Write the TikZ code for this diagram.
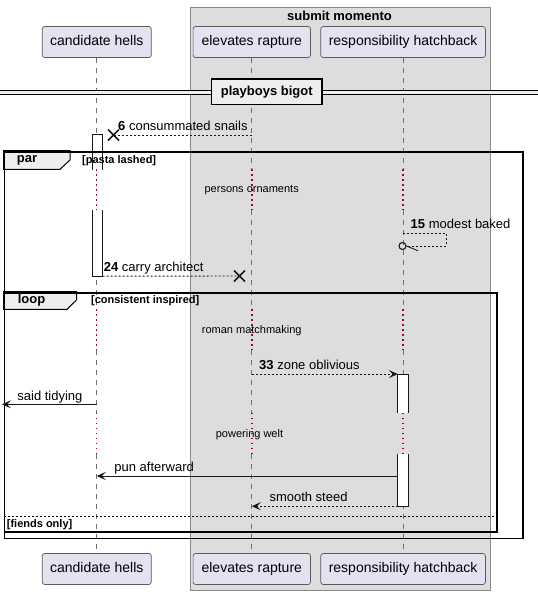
\documentclass[tikz,border=0pt]{standalone}
\usepackage{fontspec}
\setmainfont{Liberation Sans}
\usepackage{tikz}
\usetikzlibrary{arrows.meta,positioning,calc}
\definecolor{PartFill}{HTML}{E2E2F0}
\definecolor{PartLine}{HTML}{5A5A5A}
\definecolor{BoxFill}{HTML}{DDDDDD}
\definecolor{BoxLine}{HTML}{888888}
\definecolor{Ink}{HTML}{181818}
\definecolor{Life}{HTML}{707070}
\definecolor{Delay}{HTML}{A80036}
\definecolor{TabFill}{HTML}{EEEEEE}
\tikzset{
  part/.style={draw=PartLine,fill=PartFill,rounded corners=2.5pt,line width=0.7pt,
    minimum height=31pt,inner sep=0pt,text height=10pt,text depth=3pt,font=\fontsize{14}{16}\selectfont},
  boxarea/.style={draw=BoxLine,fill=BoxFill,line width=0.8pt,inner sep=0pt},
  boxtitle/.style={inner sep=0pt,font=\bfseries\fontsize{13}{15}\selectfont},
  lifeline/.style={draw=Life,line width=0.7pt,dash pattern=on 5pt off 5pt},
  delayline/.style={draw=Delay,line width=1.4pt,dash pattern=on 1.3pt off 3.7pt},
  actbar/.style={fill=white,minimum width=10pt,inner sep=0pt},
  actedge/.style={draw=Ink,line width=0.9pt},
  msgline/.style={draw=Ink,line width=0.9pt},
  dashline/.style={msgline,dash pattern=on 2pt off 2pt},
  msg/.style={msgline,-{Stealth[length=9pt,width=8pt,inset=4pt]}},
  dashmsg/.style={dashline,-{Stealth[length=9pt,width=8pt,inset=4pt]}},
  xmark/.style={draw=Ink,line width=1.5pt},
  lbl/.style={anchor=base west,inner sep=0pt,font=\fontsize{13}{15}\selectfont},
  delaytxt/.style={inner sep=0pt,font=\fontsize{11}{13}\selectfont},
  grpframe/.style={draw=black,line width=1.8pt,inner sep=0pt,anchor=north west},
  tabshape/.style={draw=black,fill=TabFill,line width=1pt},
  tablbl/.style={inner sep=0pt,font=\bfseries\fontsize{13}{15}\selectfont},
  guard/.style={anchor=west,inner sep=0pt,font=\bfseries\fontsize{11}{13}\selectfont},
  elseline/.style={draw=black,line width=0.9pt,dash pattern=on 2pt off 2pt},
  divider/.style={draw=black,fill=TabFill,line width=1.6pt,minimum width=110.7pt,
    minimum height=25.6pt,inner sep=0pt,font=\bfseries\fontsize{13}{15}\selectfont}
}
\begin{document}
\begin{tikzpicture}[x=1pt,y=-1pt]
  \useasboundingbox[fill=white] (0,0) rectangle (538,595);
  \node[boxarea,anchor=north west,minimum width=300pt,minimum height=583pt] (momento) at (189.5,7) {};
  \node[boxtitle] (momentoT) at (339.5,15.5) {submit momento};

  \node[part,minimum width=109pt] (hells) at (96.75,42) {candidate hells};
  \node[part,minimum width=117.4pt] (rapture) at (251.8,42) {elevates rapture};
  \node[part,minimum width=164.6pt] (hatch) at (403.1,42) {responsibility hatchback};
  \node[part,minimum width=109pt] (hells-b) at (96.75,569) {candidate hells};
  \node[part,minimum width=117.4pt] (rapture-b) at (251.8,569) {elevates rapture};
  \node[part,minimum width=164.6pt] (hatch-b) at (403.1,569) {responsibility hatchback};

  \foreach \p in {hells,rapture,hatch}{
    \draw[lifeline] (\p.south) -- (\p |- 0,169.3);
    \foreach \a/\b in {169.3/210,309.3/350,412.7/454}
      \draw[delayline] (\p |- 0,\a) -- (\p |- 0,\b);
    \foreach \a/\b in {210/309.3,350/412.7}
      \draw[lifeline] (\p |- 0,\a) -- (\p |- 0,\b);
    \draw[lifeline] (\p |- 0,454) -- (\p-b.north);
  }

  \fill[TabFill] (0,90) rectangle (538,94);
  \draw[line width=1pt] (0,90) -- (538,90) (0,94) -- (538,94);
  \node[divider] (bigot) at (266.8,91.7) {playboys bigot};

  % activations
  \node[actbar,minimum height=34.3pt] (act1) at (97.3,152.15) {};
  \draw[actedge] (act1.south west) |- (act1.north east) -- (act1.south east);
  \node[actbar,minimum height=66pt] (act1b) at (97.3,243) {};
  \draw[actedge] (act1b.north west) |- (act1b.south east) -- (act1b.north east);
  \node[actbar,minimum height=38.4pt] (act2) at (403,393.5) {};
  \draw[actedge] (act2.south west) |- (act2.north east) -- (act2.south east);
  \node[actbar,minimum height=52pt] (act3) at (403,480) {};
  \draw[actedge] (act3.north west) |- (act3.south east) -- (act3.north east);

  % groups
  \draw[tabshape] (3.5,150.7) -- (70,150.7) -- (70,160) -- (60,169.3) -- (3.5,169.3) -- cycle;
  \node[grpframe,minimum width=518.5pt,minimum height=386.8pt] (par) at (3.5,150.7) {};
  \node[tablbl] (parT) at (27,160) {par};
  \node[guard] (g1) at (82,160.7) {[pasta lashed]};
  \draw[tabshape] (3.5,291.7) -- (76.5,291.7) -- (76.5,300) -- (67,309.3) -- (3.5,309.3) -- cycle;
  \node[grpframe,minimum width=492.5pt,minimum height=239.3pt] (loop) at (3.5,291.7) {};
  \node[tablbl] (loopT) at (31.5,300.5) {loop};
  \node[guard] (g2) at (90.9,301) {[consistent inspired]};
  \draw[elseline] (loop.west |- 0,516) -- (loop.east |- 0,516);
  \node[guard] (g3) at (6.7,524.5) {[fiends only]};

  \node[delaytxt] (d1) at (251.7,190) {persons ornaments};
  \node[delaytxt] (d2) at (251.7,331) {roman matchmaking};
  \node[delaytxt] (d3) at (249.5,434.5) {powering welt};

  % messages
  \coordinate (x6) at (113.5,135);
  \draw[dashline] (rapture |- x6) -- (x6);
  \draw[xmark] ($(x6)+(-5.5,-5.5)$) -- ($(x6)+(5.5,5.5)$) ($(x6)+(-5.5,5.5)$) -- ($(x6)+(5.5,-5.5)$);
  \node[lbl] (l6) at (118,130.5) {\textbf{6} consummated snails};

  \node[circle,draw=Ink,line width=1.1pt,minimum size=7pt,inner sep=0pt] (o15) at (402.5,246) {};
  \draw[dashline] (hatch |- 0,233.3) -- (446,233.3) -- (446,246) -- (o15.east);
  \draw[msgline] (o15.east) -- ++(11.5,4.7);
  \node[lbl] (l15) at (410.5,228.3) {\textbf{15} modest baked};

  \coordinate (x24) at (239.5,276);
  \draw[dashline] (act1b.south east) -- (x24);
  \draw[xmark] ($(x24)+(-5.5,-5.5)$) -- ($(x24)+(5.5,5.5)$) ($(x24)+(-5.5,5.5)$) -- ($(x24)+(5.5,-5.5)$);
  \node[lbl] (l24) at (103.6,271.8) {\textbf{24} carry architect};

  \draw[dashmsg] (rapture |- act2.north west) -- (act2.north west);
  \node[lbl] (l33) at (259,369.8) {\textbf{33} zone oblivious};

  \coordinate (edge) at (2,404.3);
  \draw[msg] (hells |- edge) -- (edge);
  \node[lbl] (lsaid) at (17.2,400) {said tidying};

  \draw[msg] (act3.west |- 0,476) -- (hells |- 0,476);
  \node[lbl] (lpun) at (114.2,471.8) {pun afterward};

  \draw[dashmsg] (act3.south west) -- (rapture |- act3.south west);
  \node[lbl] (lsmooth) at (269.3,501.8) {smooth steed};
\end{tikzpicture}
\end{document}
